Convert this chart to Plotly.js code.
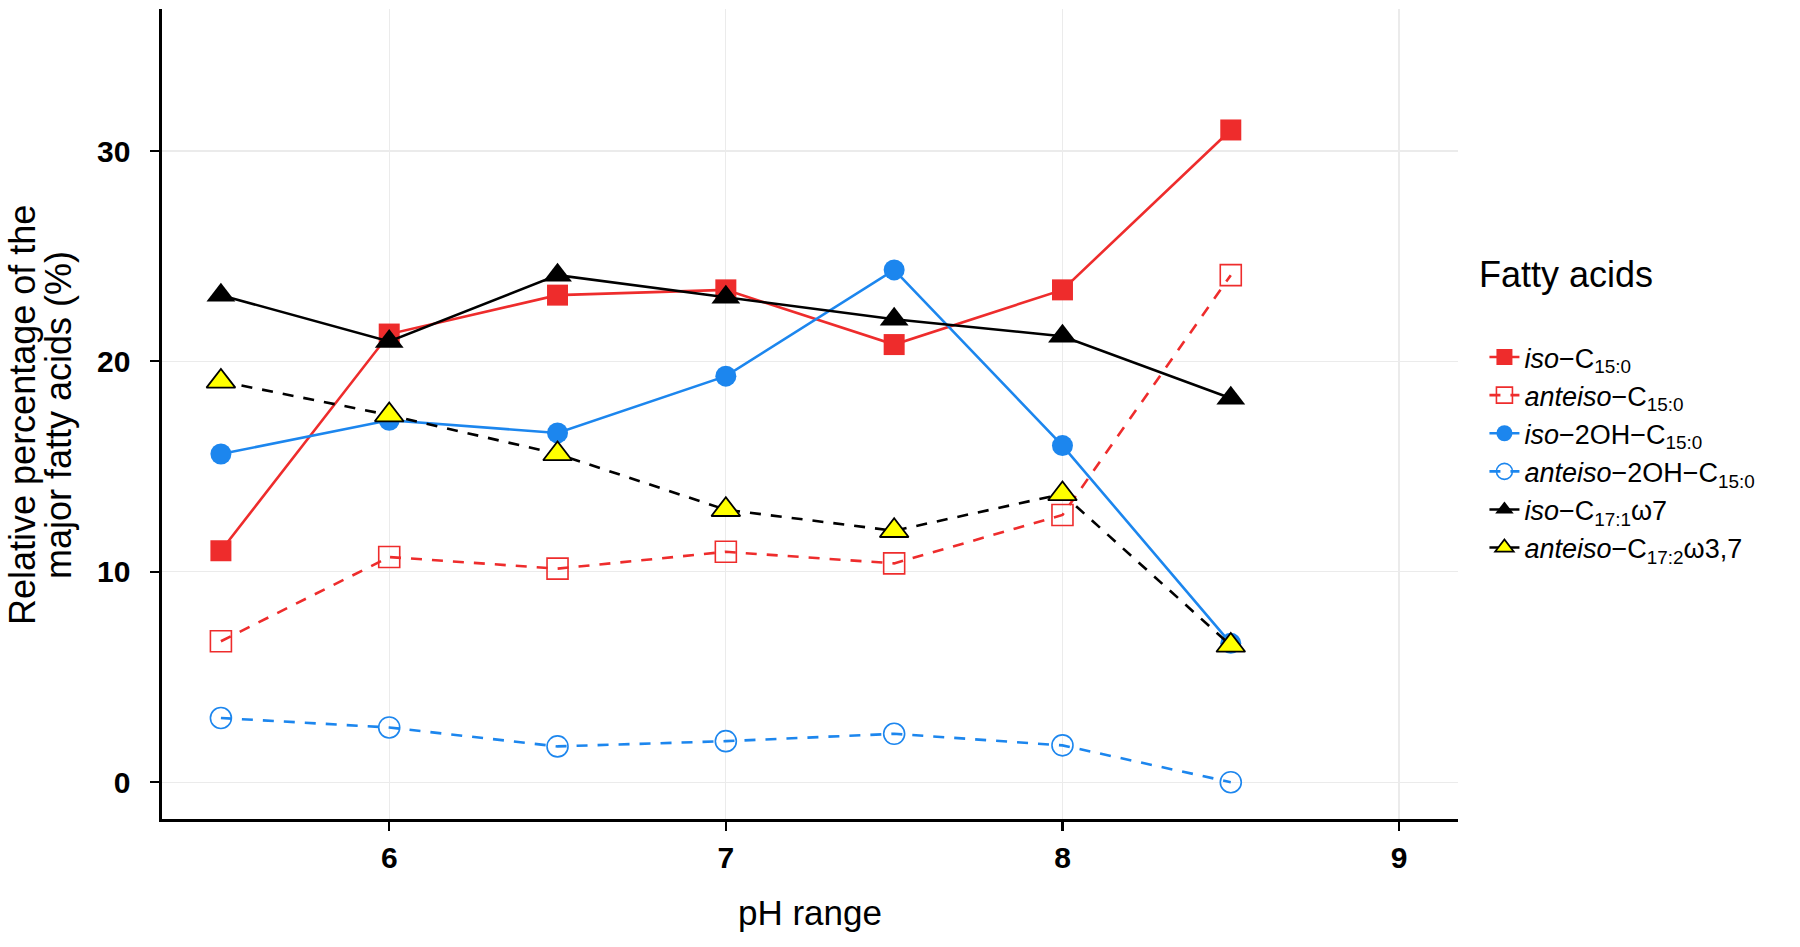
<!DOCTYPE html>
<html>
<head>
<meta charset="utf-8">
<script src="https://cdn.plot.ly/plotly-3.0.1.min.js"></script>
<style>html,body{margin:0;padding:0;background:#fff;}#chart{width:1800px;height:947px;}</style>
</head>
<body>
<div id="chart"></div>
<script>
// pH values
const pH = [5.5, 6, 6.5, 7, 7.5, 8, 8.5];
// Series (relative %)
const isoC15 = [11.0, 21.3, 23.15, 23.4, 20.8, 23.4, 31.0];
const anteisoC15 = [6.7, 10.7, 10.15, 10.95, 10.4, 12.7, 24.1];
const iso2OH = [15.6, 17.2, 16.6, 19.3, 24.35, 16.0, 6.6];
const anteiso2OH = [3.05, 2.6, 1.7, 1.95, 2.3, 1.75, 0.0];
const isoC17 = [23.15, 20.95, 24.1, 23.05, 22.0, 21.2, 18.25];
const anteisoC17 = [19.05, 17.45, 15.6, 12.95, 11.95, 13.7, 6.5];
// Legend labels
const names = [
  '<i>iso</i>\u2212C<sub>15:0</sub>',
  '<i>anteiso</i>\u2212C<sub>15:0</sub>',
  '<i>iso</i>\u22122OH\u2212C<sub>15:0</sub>',
  '<i>anteiso</i>\u22122OH\u2212C<sub>15:0</sub>',
  '<i>iso</i>\u2212C<sub>17:1</sub>\u03c97',
  '<i>anteiso</i>\u2212C<sub>17:2</sub>\u03c93,7'
];
const xTicks = [6, 7, 8, 9];
const yTicks = [0, 10, 20, 30];
const yTitleLines = ['Relative percentage of the', 'major fatty acids (%)'];
const xTitle = 'pH range';
const legendTitle = 'Fatty acids';

const RED = '#EE2C2C', BLUE = '#1C86EE';
const FONT = 'Liberation Sans, Arial, Helvetica, sans-serif';
const DASH = '11px,10px';

function tr(y, name, color, dash, symbol, msize, mcolor, mline) {
  return {
    x: pH, y: y, name: name, type: 'scatter', mode: 'lines+markers',
    line: {color: color, width: 2.6, dash: dash},
    marker: {symbol: symbol, size: msize, color: mcolor, line: mline}
  };
}

const data = [
  tr(isoC15, names[0], RED, 'solid', 'square', 21, RED, {width: 0}),
  tr(anteisoC15, names[1], RED, DASH, 'square-open', 21, RED, {width: 1.6, color: RED}),
  tr(iso2OH, names[2], BLUE, 'solid', 'circle', 21, BLUE, {width: 0}),
  tr(anteiso2OH, names[3], BLUE, DASH, 'circle-open', 21, BLUE, {width: 1.6, color: BLUE}),
  tr(isoC17, names[4], '#000000', 'solid', 'triangle-up', 25, '#000000', {width: 0}),
  tr(anteisoC17, names[5], '#000000', DASH, 'triangle-up', 25, '#FFFF00', {width: 1.8, color: '#000000'})
];

const layout = {
  width: 1800, height: 947,
  margin: {l: 162, r: 342, t: 9, b: 128},
  paper_bgcolor: '#ffffff', plot_bgcolor: '#ffffff',
  font: {family: FONT, color: '#000000'},
  showlegend: true,
  hovermode: false,
  xaxis: {
    range: [5.325, 9.175], tickvals: xTicks, ticktext: xTicks.map(String),
    showgrid: true, gridcolor: '#EBEBEB', gridwidth: 1.2, zeroline: false,
    showline: true, linecolor: '#000000', linewidth: 2.6,
    ticks: 'outside', ticklen: 9, tickwidth: 2.2, tickcolor: '#000000',
    tickfont: {family: FONT, size: 30, color: '#000000', weight: 'bold'},
    ticklabelstandoff: 1,
    title: {text: xTitle, font: {family: FONT, size: 35, color: '#000000'}, standoff: 28},
    automargin: false
  },
  yaxis: {
    range: [-1.75, 36.75], tickvals: yTicks, ticktext: yTicks.map(String),
    showgrid: true, gridcolor: '#EBEBEB', gridwidth: 1.2, zeroline: false,
    showline: true, linecolor: '#000000', linewidth: 2.6,
    ticks: 'outside', ticklen: 9, tickwidth: 2.2, tickcolor: '#000000',
    tickfont: {family: FONT, size: 30, color: '#000000', weight: 'bold'},
    ticklabelstandoff: 14,
    automargin: false
  },
  legend: {
    x: 1.0204, xanchor: 'left', y: 0.6, yanchor: 'top',
    font: {family: FONT, size: 27, color: '#000000'},
    bgcolor: 'rgba(0,0,0,0)', itemwidth: 30, traceorder: 'normal',
    tracegroupgap: 0
  },
  annotations: [
    {
      text: legendTitle, xref: 'paper', yref: 'paper', x: 1.0147, y: 0.672,
      xanchor: 'left', yanchor: 'middle', showarrow: false,
      font: {family: FONT, size: 36, color: '#000000'}
    },
    {
      text: yTitleLines[0], xref: 'paper', yref: 'paper', x: (23 - 162) / 1296, y: 0.4988,
      xanchor: 'center', yanchor: 'middle', showarrow: false, textangle: -90,
      font: {family: FONT, size: 36, color: '#000000'}
    },
    {
      text: yTitleLines[1], xref: 'paper', yref: 'paper', x: (59 - 162) / 1296, y: 0.4988,
      xanchor: 'center', yanchor: 'middle', showarrow: false, textangle: -90,
      font: {family: FONT, size: 36, color: '#000000'}
    }
  ]
};

Plotly.newPlot('chart', data, layout, {displayModeBar: false, staticPlot: true});
</script>
</body>
</html>
